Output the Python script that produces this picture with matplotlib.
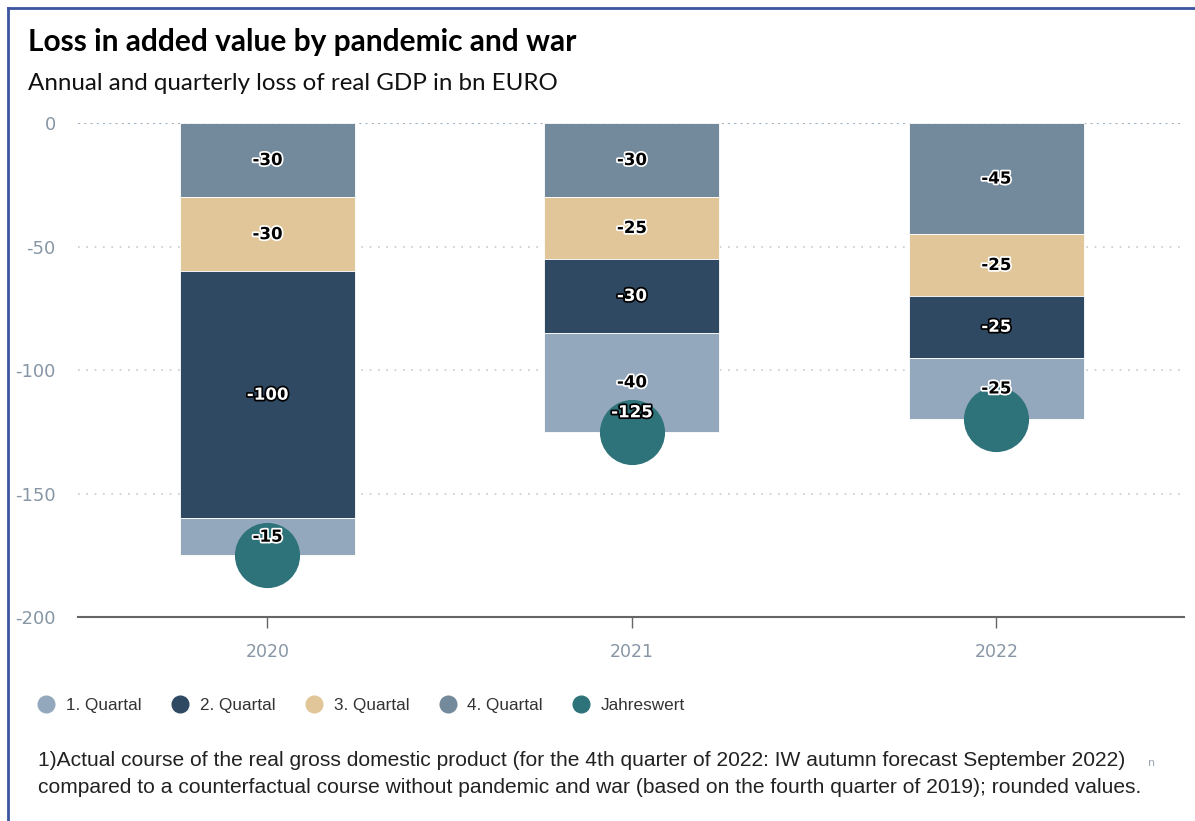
import numpy as np
import matplotlib.pyplot as plt
import matplotlib.patheffects as pe
from matplotlib.lines import Line2D

years = ["2020", "2021", "2022"]
q4 = [-30, -30, -45]
q3 = [-30, -25, -25]
q2 = [-100, -30, -25]
q1 = [-15, -40, -25]
annual = [-175, -125, -120]
yticks = [0, -50, -100, -150, -200]

names = ["1. Quartal", "2. Quartal", "3. Quartal", "4. Quartal", "Jahreswert"]
colors = ["#93a8bc", "#2f4963", "#e0c698", "#738a9c", "#2f737a"]
dark = [False, True, False, False, True]

fig = plt.figure(figsize=(11.95, 8.21), dpi=100)
ax = fig.add_axes([78 / 1195, 1 - 617 / 821, (1184 - 78) / 1195, (617 - 123) / 821])

x = np.arange(len(years))
w = 0.48

# stack from 0 downwards: 4Q, 3Q, 2Q, 1Q
stack = [(q4, 3), (q3, 2), (q2, 1), (q1, 0)]
base = np.zeros(len(years))
for vals, ci in stack:
    vals = np.array(vals, dtype=float)
    ax.bar(x, vals, w, bottom=base, color=colors[ci], edgecolor="white",
           linewidth=0.6, zorder=2)
    for xi, b, v in zip(x, base, vals):
        if dark[ci]:
            tc, oc = "white", "black"
        else:
            tc, oc = "black", "white"
        ax.text(xi, b + v / 2, f"{int(v)}", ha="center", va="center",
                fontsize=12, fontweight="bold", color=tc, zorder=5,
                path_effects=[pe.withStroke(linewidth=2.5, foreground=oc)])
    base = base + vals

ax.scatter(x, annual, s=2200, color=colors[4], zorder=3, linewidths=0)
# only the 2021 annual label is visible in the original
ax.annotate(f"{annual[1]}", (x[1], annual[1]), xytext=(0, 14),
            textcoords="offset points", ha="center", va="center",
            fontsize=12, fontweight="bold", color="white", zorder=6,
            path_effects=[pe.withStroke(linewidth=2.5, foreground="black")])

ax.set_xlim(-0.52, 2.515)
ax.set_ylim(-200, 0)
ax.set_yticks(yticks)
ax.set_yticklabels([str(t) for t in yticks])
ax.set_xticks(x)
ax.set_xticklabels(years)

for t in yticks[1:4]:
    ax.axhline(t, color="#c5ccd4", linestyle=(0, (1, 4)), linewidth=1.2, zorder=1)
ax.axhline(0, color="#9fb0c2", linestyle=(0, (1, 2)), linewidth=1.5, zorder=1)

for s in ["top", "right", "left"]:
    ax.spines[s].set_visible(False)
ax.spines["bottom"].set_color("#666666")
ax.spines["bottom"].set_linewidth(1.5)
ax.tick_params(axis="y", length=0, pad=16, labelsize=13, labelcolor="#8796a5")
ax.tick_params(axis="x", length=8, width=1, color="#666666", pad=11,
               labelsize=12.5, labelcolor="#8796a5")
for lab in ax.get_xticklabels() + ax.get_yticklabels():
    lab.set_family("DejaVu Sans")

handles = [Line2D([], [], marker="o", linestyle="", markersize=12,
                  markerfacecolor=c, markeredgecolor=c) for c in colors]
fig.legend(handles, names, loc="center left", bbox_to_anchor=(14 / 1195, 1 - 705 / 821),
           ncol=5, frameon=False, handletextpad=0.15, columnspacing=1.25,
           prop={"family": "Liberation Sans", "size": 12.3}, labelcolor="#333333")

fig.text(28 / 1195, 1 - 42 / 821, "Loss in added value by pandemic and war",
         fontsize=21.5, fontweight="bold", family="Lato", va="center", color="black")
fig.text(28 / 1195, 1 - 83 / 821, "Annual and quarterly loss of real GDP in bn EURO",
         fontsize=17.4, family="Lato", va="center", color="#111111")

fig.text(38 / 1195, 1 - 760 / 821,
         "1)Actual course of the real gross domestic product (for the 4th quarter of 2022: IW autumn forecast September 2022)",
         fontsize=15.1, family="Liberation Sans", va="center", color="#222222")
fig.text(38 / 1195, 1 - 787 / 821,
         "compared to a counterfactual course without pandemic and war (based on the fourth quarter of 2019); rounded values.",
         fontsize=15.1, family="Liberation Sans", va="center", color="#222222")
fig.text(1148 / 1195, 1 - 763 / 821, "n", fontsize=8, color="#9aa5b0", va="center")

# blue frame on top and left
fig.add_artist(Line2D([8 / 1195, 8 / 1195], [0, 1 - 8 / 821], color="#3b55a0",
                      linewidth=2, transform=fig.transFigure))
fig.add_artist(Line2D([8 / 1195, 1], [1 - 8 / 821, 1 - 8 / 821], color="#3b55a0",
                      linewidth=2, transform=fig.transFigure))

fig.savefig("out.png", dpi=100)
